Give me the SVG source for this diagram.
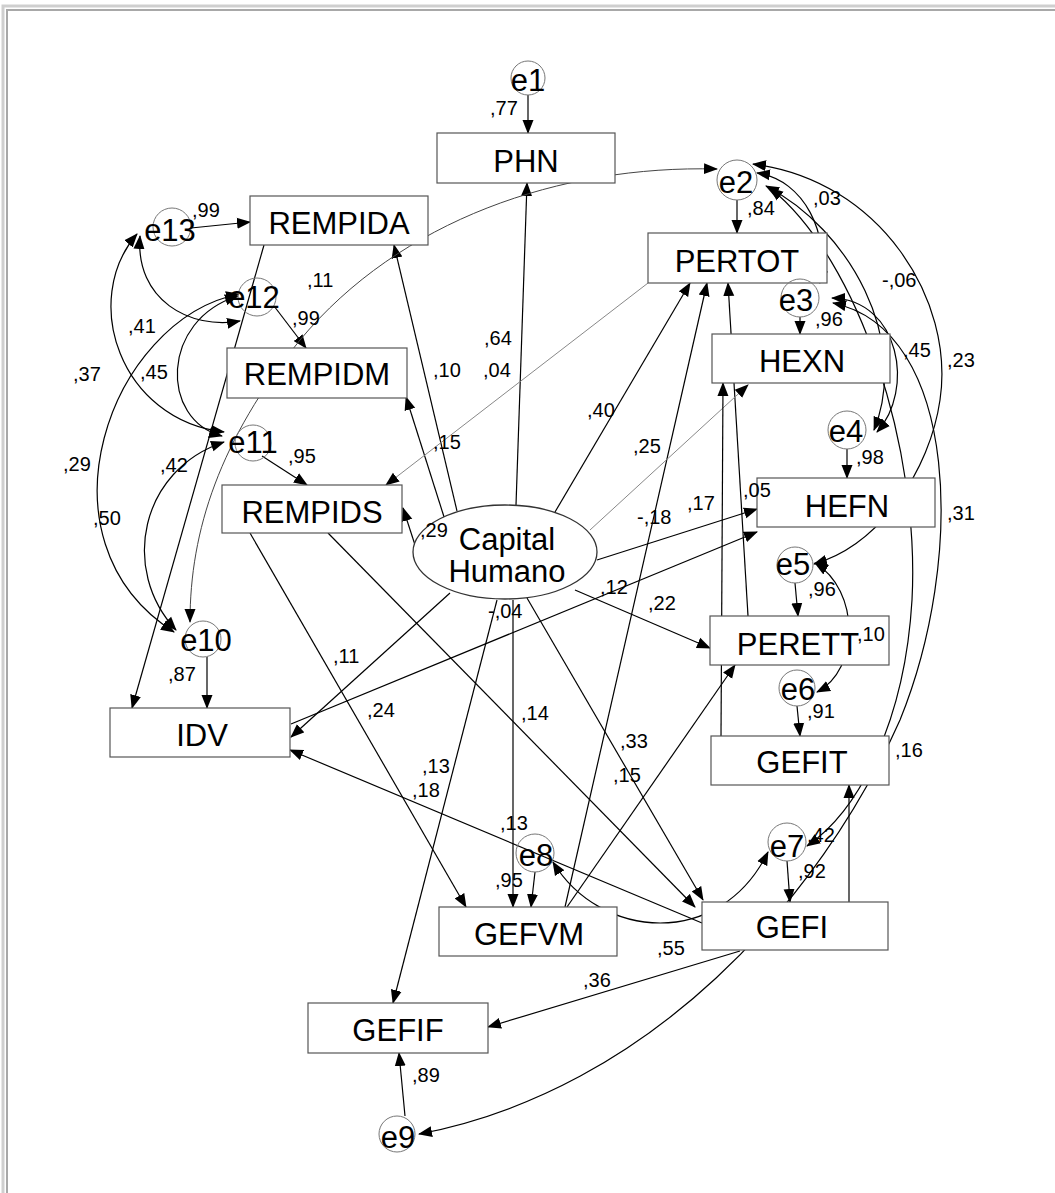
<svg xmlns="http://www.w3.org/2000/svg" width="1055" height="1193" viewBox="0 0 1055 1193">
<style>
.n rect{fill:#fff;stroke:#555;stroke-width:1.2}
.e circle{fill:none;stroke:#777;stroke-width:1}
.lv ellipse{fill:#fff;stroke:#333;stroke-width:1.3}
.t{font-family:"Liberation Sans",Arial,sans-serif;font-size:31px;fill:#000;text-anchor:middle}
.l{font-family:"Liberation Sans",Arial,sans-serif;font-size:20px;fill:#000}
.c path{fill:none;stroke:#000;stroke-width:1.2;marker-end:url(#ah)}
.c path.g{stroke:#888;stroke-width:1}
.c path.k{stroke:#444;stroke-width:1}
.c path.d{marker-start:url(#ah)}
</style>
<defs>
<marker id="ah" markerUnits="userSpaceOnUse" markerWidth="14" markerHeight="12" refX="13" refY="6" orient="auto-start-reverse" viewBox="0 0 14 12">
<path d="M0,0.5 L14,6 L0,11.5 z" fill="#000"/>
</marker>
</defs>
<rect x="0" y="0" width="1055" height="1193" fill="#fff"/>
<g id="frame" fill="none">
<path d="M3,1193 V6 H1055" stroke="#cfcfcf" stroke-width="3"/>
<path d="M7,1193 V10 H1055" stroke="#a8a8a8" stroke-width="2"/>
</g>

<g class="c" id="connectors">
<!-- regression paths -->
<path d="M528,95 L528,133"/>
<path d="M516,505 L527,183"/>
<path d="M191,228 L250,222"/>
<path d="M457,511 L394,245"/>
<path d="M264,245 L132,708"/>
<path d="M274,306 L306,348"/>
<path d="M445,520 L406,397"/>
<path d="M262,456 L307,485"/>
<path d="M416,548 L403,508"/>
<path class="g" d="M648,283 L386,485"/>
<path d="M250,533 L466,907"/>
<path d="M328,533 L695,907"/>
<path d="M207,657 L207,708"/>
<path d="M450,593 L291,737"/>
<path d="M702,923 L290,750"/>
<path d="M291,724 L757,532"/>
<path d="M737,200 L737,233"/>
<path d="M555,512 L690,283"/>
<path d="M565,907 L707,283"/>
<path d="M748,616 L728,283"/>
<path d="M800,317 L800,334"/>
<path class="g" d="M590,530 L748,385"/>
<path d="M721,736 L723,383"/>
<path d="M847,449 L847,478"/>
<path d="M597,560 L757,509"/>
<path d="M795,583 L798,616"/>
<path d="M575,590 L710,648"/>
<path d="M567,907 L735,665"/>
<path d="M797,706 L800,736"/>
<path d="M849,902 L849,785"/>
<path d="M787,861 L790,902"/>
<path d="M527,598 L703,900"/>
<path d="M535,872 L531,907"/>
<path d="M513,600 L513,907"/>
<path d="M497,600 L393,1003"/>
<path d="M740,951 L488,1027"/>
<path d="M405,1116 L399,1053"/>
<!-- covariances -->
<path class="d k" d="M717,169 C560,165 400,220 300,340 C220,440 190,530 190,622"/>
<path class="d" d="M140,236 C135,300 190,330 240,321"/>
<path class="d" d="M137,234 C80,300 120,420 224,432"/>
<path class="d" d="M238,296 C160,320 160,420 222,436"/>
<path class="d" d="M239,294 C110,320 30,540 174,632"/>
<path class="d" d="M224,442 C140,470 120,570 176,630"/>
<path class="d" d="M757,173 C805,180 830,235 820,283"/>
<path class="d" d="M766,186 C850,230 910,340 874,430"/>
<path class="d" d="M832,298 C900,300 915,390 877,432"/>
<path class="d" d="M753,164 C880,180 955,300 940,400 C930,470 880,545 814,564"/>
<path class="d" d="M770,188 C860,260 920,450 912,600 C905,720 860,810 807,846"/>
<path class="d" d="M833,303 C960,330 965,560 900,720 C820,900 650,1090 419,1134"/>
<path class="d" d="M815,563 C860,590 860,670 817,692"/>
<path class="d" d="M553,862 C600,940 720,950 768,852"/>
</g>

<g id="PHN" class="n"><rect x="437" y="133" width="178" height="50"/><text class="t" x="526" y="172">PHN</text></g>
<g id="REMPIDA" class="n"><rect x="250" y="196" width="178" height="49"/><text class="t" x="339" y="234">REMPIDA</text></g>
<g id="REMPIDM" class="n"><rect x="227" y="348" width="180" height="50"/><text class="t" x="317" y="385">REMPIDM</text></g>
<g id="REMPIDS" class="n"><rect x="222" y="485" width="180" height="48"/><text class="t" x="312" y="523">REMPIDS</text></g>
<g id="PERTOT" class="n"><rect x="648" y="233" width="179" height="50"/><text class="t" x="737" y="272">PERTOT</text></g>
<g id="HEXN" class="n"><rect x="712" y="334" width="178" height="49"/><text class="t" x="802" y="372">HEXN</text></g>
<g id="HEFN" class="n"><rect x="757" y="478" width="178" height="49"/><text class="t" x="847" y="517">HEFN</text></g>
<g id="PERETT" class="n"><rect x="710" y="616" width="179" height="49"/><text class="t" x="798" y="655">PERETT</text></g>
<g id="GEFIT" class="n"><rect x="711" y="736" width="178" height="49"/><text class="t" x="802" y="773">GEFIT</text></g>
<g id="IDV" class="n"><rect x="110" y="708" width="180" height="49"/><text class="t" x="202" y="746">IDV</text></g>
<g id="GEFVM" class="n"><rect x="439" y="907" width="178" height="49"/><text class="t" x="529" y="945">GEFVM</text></g>
<g id="GEFI" class="n"><rect x="702" y="902" width="186" height="48"/><text class="t" x="792" y="938">GEFI</text></g>
<g id="GEFIF" class="n"><rect x="308" y="1003" width="180" height="50"/><text class="t" x="398" y="1041">GEFIF</text></g>

<g id="CapitalHumano" class="lv"><ellipse cx="505" cy="552" rx="92" ry="47"/><text class="t" x="507" y="550">Capital</text><text class="t" x="507" y="582">Humano</text></g>

<g id="e1" class="e"><circle cx="528" cy="78" r="17"/><text class="t" x="528" y="91">e1</text></g>
<g id="e2" class="e"><circle cx="737" cy="180" r="20"/><text class="t" x="736" y="193">e2</text></g>
<g id="e3" class="e"><circle cx="800" cy="298" r="19"/><text class="t" x="796" y="311">e3</text></g>
<g id="e4" class="e"><circle cx="847" cy="430" r="19"/><text class="t" x="846" y="442">e4</text></g>
<g id="e5" class="e"><circle cx="795" cy="565" r="18"/><text class="t" x="793" y="575">e5</text></g>
<g id="e6" class="e"><circle cx="797" cy="688" r="18"/><text class="t" x="798" y="700">e6</text></g>
<g id="e7" class="e"><circle cx="787" cy="842" r="19"/><text class="t" x="787" y="857">e7</text></g>
<g id="e8" class="e"><circle cx="535" cy="853" r="19"/><text class="t" x="536" y="866">e8</text></g>
<g id="e9" class="e"><circle cx="397" cy="1134" r="18"/><text class="t" x="398" y="1148">e9</text></g>
<g id="e10" class="e"><circle cx="203" cy="639" r="18"/><text class="t" x="206" y="651">e10</text></g>
<g id="e11" class="e"><circle cx="253" cy="443" r="18"/><text class="t" x="253" y="453">e11</text></g>
<g id="e12" class="e"><circle cx="257" cy="297" r="19"/><text class="t" x="254" y="308">e12</text></g>
<g id="e13" class="e"><circle cx="172" cy="227" r="19"/><text class="t" x="170" y="241">e13</text></g>

<g id="labels">
<text class="l" x="490" y="115">,77</text>
<text class="l" x="192" y="217">,99</text>
<text class="l" x="307" y="287">,11</text>
<text class="l" x="292" y="325">,99</text>
<text class="l" x="128" y="333">,41</text>
<text class="l" x="73" y="381">,37</text>
<text class="l" x="140" y="379">,45</text>
<text class="l" x="433" y="377">,10</text>
<text class="l" x="483" y="377">,04</text>
<text class="l" x="484" y="345">,64</text>
<text class="l" x="587" y="417">,40</text>
<text class="l" x="288" y="463">,95</text>
<text class="l" x="63" y="471">,29</text>
<text class="l" x="160" y="472">,42</text>
<text class="l" x="433" y="449">,15</text>
<text class="l" x="633" y="453">,25</text>
<text class="l" x="93" y="525">,50</text>
<text class="l" x="420" y="537">,29</text>
<text class="l" x="637" y="524">-,18</text>
<text class="l" x="687" y="510">,17</text>
<text class="l" x="743" y="497">,05</text>
<text class="l" x="600" y="594">,12</text>
<text class="l" x="648" y="610">,22</text>
<text class="l" x="488" y="618">-,04</text>
<text class="l" x="333" y="663">,11</text>
<text class="l" x="168" y="681">,87</text>
<text class="l" x="367" y="717">,24</text>
<text class="l" x="521" y="720">,14</text>
<text class="l" x="620" y="748">,33</text>
<text class="l" x="422" y="773">,13</text>
<text class="l" x="412" y="797">,18</text>
<text class="l" x="613" y="782">,15</text>
<text class="l" x="500" y="830">,13</text>
<text class="l" x="495" y="887">,95</text>
<text class="l" x="807" y="842">,42</text>
<text class="l" x="798" y="878">,92</text>
<text class="l" x="657" y="955">,55</text>
<text class="l" x="583" y="987">,36</text>
<text class="l" x="412" y="1082">,89</text>
<text class="l" x="747" y="215">,84</text>
<text class="l" x="813" y="205">,03</text>
<text class="l" x="882" y="287">-,06</text>
<text class="l" x="815" y="326">,96</text>
<text class="l" x="903" y="357">,45</text>
<text class="l" x="947" y="367">,23</text>
<text class="l" x="856" y="464">,98</text>
<text class="l" x="947" y="520">,31</text>
<text class="l" x="808" y="596">,96</text>
<text class="l" x="857" y="641">,10</text>
<text class="l" x="807" y="718">,91</text>
<text class="l" x="895" y="757">,16</text>
</g>
</svg>
